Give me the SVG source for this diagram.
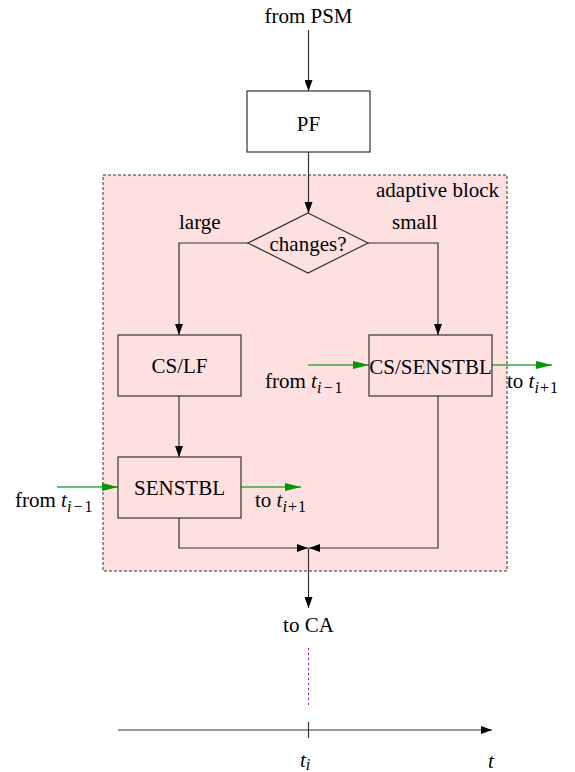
<svg xmlns="http://www.w3.org/2000/svg" width="575" height="772" viewBox="0 0 575 772">
<style>
text{font-family:"Liberation Serif","DejaVu Serif",serif;font-size:21px;fill:#000}
.c{text-anchor:middle}
.it{font-style:italic}
.sub{font-size:16px}
.box{fill:#ffe0e0;stroke:#333;stroke-width:1.2}
.ln{fill:none;stroke:#333;stroke-width:1.2}
.gr{fill:none;stroke:#3aa83a;stroke-width:1.4}
</style>
<defs>
<marker id="ah" markerUnits="userSpaceOnUse" markerWidth="11" markerHeight="8" refX="11" refY="4" orient="auto"><path d="M0,0 L11,4 L0,8 z" fill="#000"/></marker>
<marker id="ag" markerUnits="userSpaceOnUse" markerWidth="16" markerHeight="8" refX="16" refY="4" orient="auto"><path d="M0,0 L16,4 L0,8 z" fill="#009900"/></marker>
</defs>
<rect id="adaptive" x="103" y="175" width="404" height="396" fill="#ffe0e0" stroke="#333" stroke-width="1" stroke-dasharray="3,2"/>
<text x="376" y="197">adaptive block</text>
<g id="connectors">
<path class="ln" d="M308.5,30 V91" marker-end="url(#ah)"/>
<path class="ln" d="M308.5,152 V213" marker-end="url(#ah)"/>
<path class="ln" d="M248,243 H179 V335" marker-end="url(#ah)"/>
<path class="ln" d="M368,243 H438 V335" marker-end="url(#ah)"/>
<path class="ln" d="M179,396 V457" marker-end="url(#ah)"/>
<path class="ln" d="M179,518 V548 H308" marker-end="url(#ah)"/>
<path class="ln" d="M438,396 V548 H309" marker-end="url(#ah)"/>
<path class="ln" d="M308.5,548 V608" marker-end="url(#ah)"/>
<path class="gr" d="M57,487 H118" marker-end="url(#ag)"/>
<path class="gr" d="M241,487 H301" marker-end="url(#ag)"/>
<path class="gr" d="M308,365 H369" marker-end="url(#ag)"/>
<path class="gr" d="M492,365 H552" marker-end="url(#ag)"/>
<path d="M308.5,648 V705" fill="none" stroke="#c000c0" stroke-width="1" stroke-dasharray="2,3"/>
<path class="ln" d="M118,730 H492" marker-end="url(#ah)"/>
<path class="ln" d="M308.5,722 V738"/>
</g>
<text class="c" x="308.5" y="23">from PSM</text>
<g id="pf"><rect x="247" y="91" width="123" height="61" fill="#fff" stroke="#333" stroke-width="1.2"/><text class="c" x="308.5" y="131">PF</text></g>
<g id="changes"><path class="box" d="M308,213 L368,243 L308,273 L248,243 z"/><text class="c" x="308" y="251">changes?</text></g>
<text x="179" y="229">large</text>
<text x="392" y="229">small</text>
<g id="cslf"><rect class="box" x="118" y="335" width="123" height="61"/><text class="c" x="179.5" y="373">CS/LF</text></g>
<g id="senstbl"><rect class="box" x="118" y="457" width="123" height="61"/><text class="c" x="179.5" y="495">SENSTBL</text></g>
<g id="cssenstbl"><rect class="box" x="369" y="335" width="123" height="61"/><text class="c" x="430.5" y="374">CS/SENSTBL</text></g>
<text x="15" y="507">from <tspan class="it">t</tspan><tspan class="it sub" dy="5">i</tspan><tspan class="sub" dx="2">−</tspan><tspan class="sub" dx="2">1</tspan></text>
<text x="255" y="507">to <tspan class="it">t</tspan><tspan class="it sub" dy="5">i</tspan><tspan class="sub" dx="1">+</tspan><tspan class="sub" dx="1">1</tspan></text>
<text x="265" y="388">from <tspan class="it">t</tspan><tspan class="it sub" dy="5">i</tspan><tspan class="sub" dx="2">−</tspan><tspan class="sub" dx="2">1</tspan></text>
<text x="507" y="388">to <tspan class="it">t</tspan><tspan class="it sub" dy="5">i</tspan><tspan class="sub" dx="1">+</tspan><tspan class="sub" dx="1">1</tspan></text>
<text class="c" x="308.5" y="632">to CA</text>
<text x="300" y="767"><tspan class="it">t</tspan><tspan class="it sub" dy="3">i</tspan></text>
<text class="it" x="488" y="768">t</text>
</svg>
